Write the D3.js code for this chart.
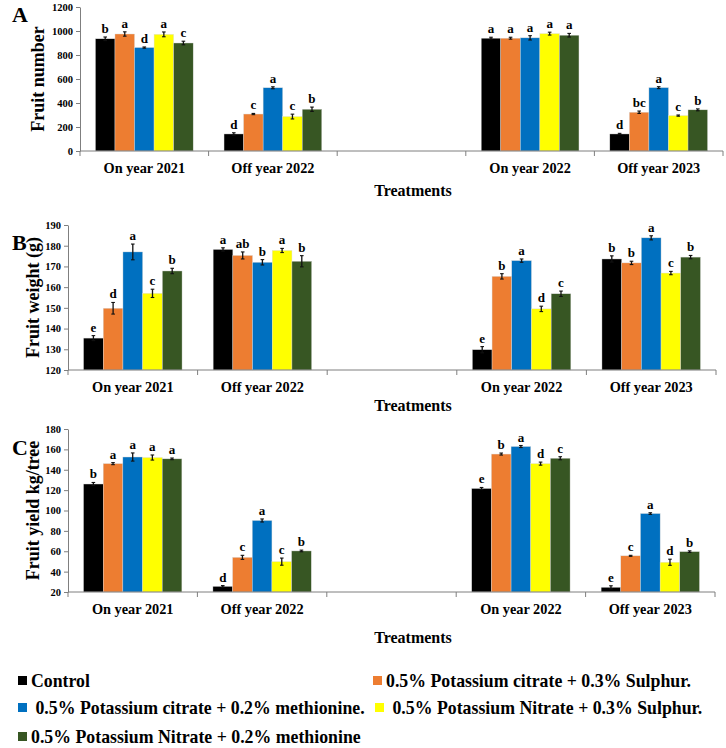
<html>
<head>
<script src="https://cdn.jsdelivr.net/npm/d3@7"></script>
<style>
  body { margin: 0; background: #fff; }
  text { font-family: "Liberation Serif", "Times New Roman", serif; font-weight: bold; fill: #000; }
</style>
</head>
<body>
<script>
// categories along x (third slot is an empty spacer in the original)
const categories = ['On year 2021', 'Off year 2022', '', 'On year 2022', 'Off year 2023'];
const treatments = [
  'Control',
  '0.5% Potassium citrate + 0.3% Sulphur.',
  ' 0.5% Potassium citrate + 0.2% methionine.',
  ' 0.5% Potassium Nitrate + 0.3% Sulphur.',
  '0.5% Potassium Nitrate + 0.2% methionine'
];
const colors = ['#000000', '#ED7D31', '#0070C0', '#FFFF00', '#375623'];

// panel A - fruit number
const fruitNumber = [[935, 975, 862, 972, 900], [142, 308, 527, 287, 348], null, [940, 940, 943, 978, 965], [142, 323, 528, 295, 343]];
const fruitNumberErr = [[15, 18, 5, 20, 15], [10, 5, 8, 20, 18], null, [8, 8, 18, 12, 15], [5, 10, 8, 5, 8]];
const fruitNumberLetters = [['b','a','d','a','c'], ['d','c','a','c','b'], null, ['a','a','a','a','a'], ['d','bc','a','c','b']];
const fruitNumberTicks = [0, 200, 400, 600, 800, 1000, 1200];

// panel B - fruit weight
const fruitWeight = [[135.4, 149.8, 177, 157, 167.8], [178.2, 175.3, 172, 177.7, 172.5], null, [129.8, 165.2, 172.8, 149.5, 156.8], [173.6, 171.7, 183.8, 166.8, 174.5]];
const fruitWeightErr = [[1.2, 2.8, 3.8, 2.0, 1.3], [0.8, 1.7, 1.3, 1.0, 2.7], null, [1.5, 1.3, 0.8, 1.3, 1.3], [1.5, 0.8, 1.0, 0.8, 0.8]];
const fruitWeightLetters = [['e','d','a','c','b'], ['a','ab','b','a','b'], null, ['e','b','a','d','c'], ['b','b','a','c','b']];
const fruitWeightTicks = [120, 130, 140, 150, 160, 170, 180, 190];

// panel C - fruit yield
const fruitYield = [[126, 146, 152.5, 152, 150.7], [25.5, 54, 90.2, 49.8, 60.3], null, [121.6, 155.4, 162.8, 146, 151.3], [24.6, 55.5, 97, 49.2, 59.6]];
const fruitYieldErr = [[1.5, 1, 4, 2.5, 0.8], [0.8, 2, 1.5, 3.5, 0.8], null, [1, 1, 1, 1.5, 1.5], [1.5, 0.5, 0.8, 3, 0.8]];
const fruitYieldLetters = [['b','a','a','a','a'], ['d','c','a','c','b'], null, ['e','b','a','d','c'], ['e','c','a','d','b']];
const fruitYieldTicks = [20, 40, 60, 80, 100, 120, 140, 160, 180];

const svg = d3.select('body').append('svg').attr('width', 726).attr('height', 748);

function drawPanel(p) {
  const g = svg.append('g');
  const x = d3.scaleBand().domain(d3.range(categories.length)).range([p.x0, p.x1]).padding(0);
  const inner = d3.scaleBand().domain(d3.range(treatments.length))
      .range([x.bandwidth() * 0.12, x.bandwidth() * 0.88]).padding(0);
  const y = d3.scaleLinear().domain([p.ticks[0], p.ticks[p.ticks.length - 1]]).range([p.yBottom, p.yTop]);

  // bars
  p.values.forEach((vals, ci) => {
    if (!vals) return;
    const grp = g.append('g').attr('transform', 'translate(' + x(ci) + ',0)');
    grp.selectAll('rect').data(vals).enter().append('rect')
        .attr('x', (d, i) => inner(i))
        .attr('width', inner.bandwidth())
        .attr('y', d => y(d))
        .attr('height', d => y(p.ticks[0]) - y(d))
        .attr('fill', (d, i) => colors[i])
        .attr('stroke', '#d9d9d9').attr('stroke-width', 0.4);

    // error bars + significance letters
    vals.forEach((v, i) => {
      const e = p.errs[ci][i];
      const cx = inner(i) + inner.bandwidth() / 2;
      grp.append('line').attr('x1', cx).attr('x2', cx).attr('y1', y(v - e)).attr('y2', y(v + e))
          .attr('stroke', '#111').attr('stroke-width', 1.3);
      [v - e, v + e].forEach(t => grp.append('line').attr('x1', cx - 1.8).attr('x2', cx + 1.8)
          .attr('y1', y(t)).attr('y2', y(t)).attr('stroke', '#111').attr('stroke-width', 1.1));
      grp.append('text').attr('x', cx).attr('y', y(v + e) - 4).attr('text-anchor', 'middle')
          .style('font-size', '13px').text(p.letters[ci][i]);
    });
  });

  // y axis
  const yAxis = d3.axisLeft(y).tickValues(p.ticks).tickFormat(d3.format('d'))
      .tickSize(4).tickSizeOuter(0).tickPadding(3);
  const ya = g.append('g').attr('transform', 'translate(' + p.x0 + ',0)').call(yAxis);
  ya.selectAll('path, line').attr('stroke', '#7f7f7f');
  ya.selectAll('text').style('font-size', '10.5px');

  // x axis
  const xAxis = d3.axisBottom(x).tickFormat(i => categories[i]).tickSize(0).tickPadding(12);
  const xa = g.append('g').attr('transform', 'translate(0,' + p.yBottom + ')').call(xAxis);
  xa.select('.domain').attr('stroke', '#7f7f7f').attr('d', 'M' + p.x0 + ',0H' + p.x1);
  xa.selectAll('text').style('font-size', '14.3px');
  // category separators
  d3.range(categories.length + 1).forEach(i => {
    const xx = i < categories.length ? x(i) : p.x1;
    g.append('line').attr('x1', xx).attr('x2', xx).attr('y1', p.yBottom).attr('y2', p.yBottom + 5)
        .attr('stroke', '#7f7f7f');
  });

  g.append('text').attr('x', 413).attr('y', p.titleY).attr('text-anchor', 'middle')
      .style('font-size', '16px').text('Treatments');
  g.append('text').attr('transform', 'translate(' + p.labelX + ',' + ((p.yTop + p.yBottom) / 2) + ') rotate(-90)')
      .attr('text-anchor', 'middle').style('font-size', '18px').text(p.ylabel);
  g.append('text').attr('x', 12).attr('y', p.letterY).style('font-size', '22px').text(p.panel);
}

drawPanel({panel: 'A', values: fruitNumber, errs: fruitNumberErr, letters: fruitNumberLetters, ticks: fruitNumberTicks,
  ylabel: 'Fruit number', x0: 80, x1: 723, yTop: 7, yBottom: 151, titleY: 196, labelX: 44, letterY: 22});
drawPanel({panel: 'B', values: fruitWeight, errs: fruitWeightErr, letters: fruitWeightLetters, ticks: fruitWeightTicks,
  ylabel: 'Fruit weight (g)', x0: 68, x1: 716, yTop: 225, yBottom: 370, titleY: 411, labelX: 39, letterY: 250});
drawPanel({panel: 'C', values: fruitYield, errs: fruitYieldErr, letters: fruitYieldLetters, ticks: fruitYieldTicks,
  ylabel: 'Fruit yield kg/tree', x0: 68, x1: 715, yTop: 429, yBottom: 592, titleY: 643, labelX: 39, letterY: 455});

// legend
const legendPos = [[18, 681], [373, 681], [18, 708], [375, 708], [18, 737]];
const legend = svg.append('g');
treatments.forEach((t, i) => {
  const [lx, ly] = legendPos[i];
  legend.append('rect').attr('x', lx).attr('y', ly - 5).attr('width', 9).attr('height', 9).attr('fill', colors[i]);
  legend.append('text').attr('x', lx + 13).attr('y', ly + 6).style('font-size', '17.8px')
      .style('white-space', 'pre').attr('xml:space', 'preserve').text(t);
});
</script>
</body>
</html>
